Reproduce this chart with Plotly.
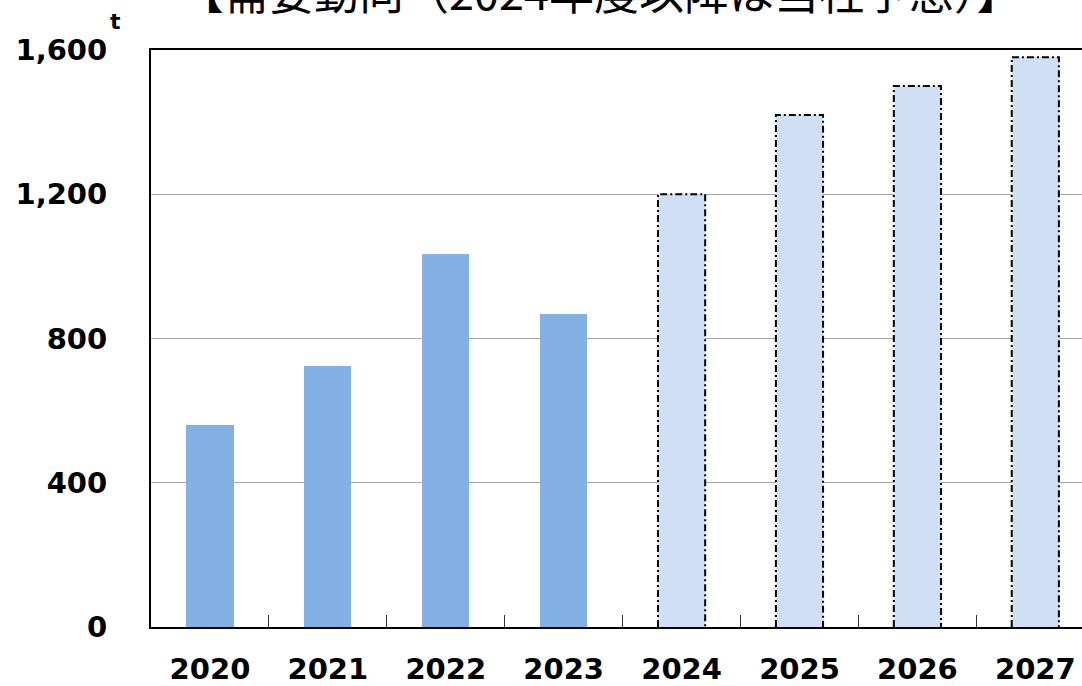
import plotly.graph_objects as go

# Demand trend (t); 2024 onward are company forecasts
years = ["2020", "2021", "2022", "2023", "2024", "2025", "2026", "2027"]
actual_values = [560, 724, 1034, 868]
forecast_values = [1200, 1420, 1500, 1580]
y_ticks = [0, 400, 800, 1200, 1600]

title_text = "【需要動向（2024年度以降は当社予想）】"
unit_text = "t"

n_actual = len(actual_values)
x_actual = list(range(n_actual))
x_forecast = list(range(n_actual, n_actual + len(forecast_values)))
bar_w = 0.4
half = bar_w / 2

fig = go.Figure()

fig.add_trace(go.Bar(
    x=x_actual, y=actual_values, width=bar_w,
    marker=dict(color="#84b1e4", line=dict(width=0)),
    hoverinfo="skip", showlegend=False,
))
fig.add_trace(go.Bar(
    x=x_forecast, y=forecast_values, width=bar_w,
    marker=dict(color="#cfe0f5", line=dict(width=0)),
    hoverinfo="skip", showlegend=False,
))

# dash-dot outlines around the forecast bars
for xv, v in zip(x_forecast, forecast_values):
    fig.add_trace(go.Scatter(
        x=[xv - half, xv - half, xv + half, xv + half],
        y=[0, v, v, 0],
        mode="lines",
        line=dict(color="black", width=2, dash="7px,3px,2px,3px"),
        hoverinfo="skip", showlegend=False,
    ))

tick_font = dict(family="DejaVu Sans", size=29, color="black", weight="bold")

fig.update_layout(
    width=1082, height=686,
    margin=dict(l=151, r=0, t=50, b=59, autoexpand=False),
    paper_bgcolor="white", plot_bgcolor="white",
    bargap=0,
    xaxis=dict(
        range=[-0.5, 7.396], automargin=False,
        tickmode="array", tickvals=list(range(len(years))), ticktext=years,
        ticks="", showgrid=False, zeroline=False,
        showline=True, linecolor="black", linewidth=2, mirror=True,
        tickfont=tick_font, ticklabelstandoff=15,
        minor=dict(ticks="inside", tickvals=[i + 0.5 for i in range(len(years) - 1)],
                   ticklen=12, tickwidth=1, tickcolor="#333333", showgrid=False),
    ),
    yaxis=dict(
        range=[0, 1600], automargin=False,
        tickmode="array", tickvals=y_ticks,
        tickformat=",", ticks="",
        showgrid=True, gridcolor="#a6a6a6", gridwidth=1,
        zeroline=False,
        showline=True, linecolor="black", linewidth=2,
        tickfont=tick_font, ticklabelstandoff=36,
    ),
    annotations=[
        dict(
            text=title_text, xref="paper", yref="paper",
            x=(600 - 151) / 931, y=1, xanchor="center", yanchor="middle",
            yshift=60, showarrow=False,
            font=dict(family="Noto Sans CJK JP", size=45, color="black"),
        ),
        dict(
            text=unit_text, xref="paper", yref="paper", x=0, y=1,
            xanchor="center", yanchor="middle", xshift=-36, yshift=29,
            showarrow=False,
            font=dict(family="DejaVu Sans", size=22, color="black", weight="bold"),
        ),
    ],
)

fig.write_html("out.html")
